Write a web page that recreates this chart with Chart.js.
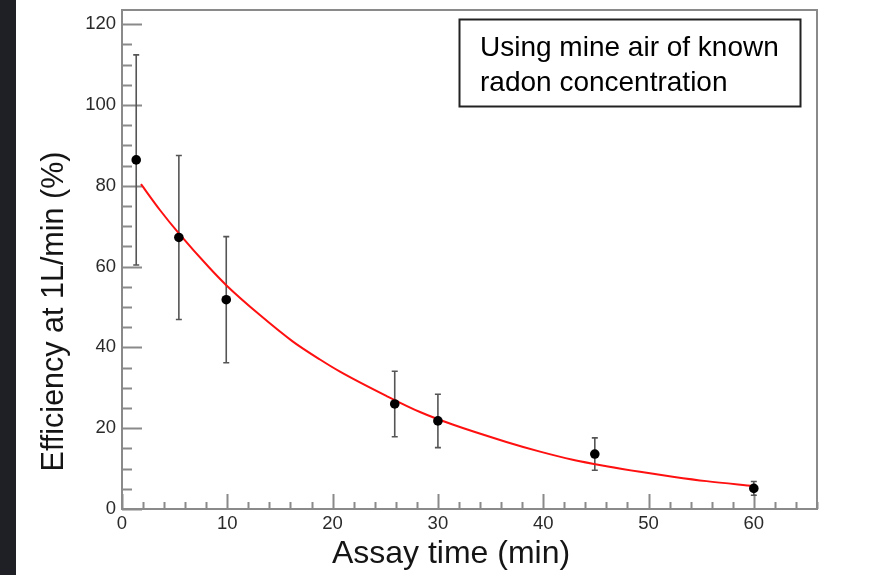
<!DOCTYPE html>
<html><head><meta charset="utf-8">
<script src="https://cdn.jsdelivr.net/npm/chart.js@4"></script>
<style>html,body{margin:0;padding:0;background:#fff;overflow:hidden}#wrap{width:875px;height:575px;position:relative}</style>
</head><body><div id="wrap"><canvas id="c" width="875" height="575"></canvas></div>
<script>
// ---- data ----
const assayTime = [1.35, 5.4, 9.9, 25.9, 30, 44.9, 60];
const efficiency = [86.4, 67.2, 51.8, 26.0, 21.8, 13.6, 5.1];
const efficiencyError = [26.0, 20.3, 15.6, 8.1, 6.6, 4.0, 1.7];
const fitTime = [1.8, 3.6, 5.4, 8.3, 9.9, 13.1, 16.2, 18.8, 20.7, 25.1, 28.3, 31.4, 36.5, 39.7, 42.8, 46.0, 49.2, 52.3, 55.5, 60.0];
const fitEfficiency = [80.4, 74.0, 68.2, 59.7, 55.4, 48.0, 41.5, 37.0, 34.0, 28.0, 24.0, 20.9, 16.6, 14.2, 12.2, 10.6, 9.2, 8.0, 6.9, 5.7];
const xTicks = [0, 10, 20, 30, 40, 50, 60];
const yTicks = [0, 20, 40, 60, 80, 100, 120];
const noteLines = ["Using mine air of known", "radon concentration"];
const xTitle = "Assay time (min)";
const yTitle = "Efficiency at 1L/min (%)";

const FONT = '"Liberation Sans", Arial, Helvetica, sans-serif';
const AXIS_GRAY = '#8a8a8a';

const decor = {
  id: 'decor',
  beforeDraw(chart) {
    const ctx = chart.ctx;
    ctx.save();
    ctx.fillStyle = '#ffffff';
    ctx.fillRect(0, 0, chart.width, chart.height);
    ctx.fillStyle = '#1f2025';
    ctx.fillRect(0, 0, 16, chart.height);
    ctx.restore();
  },
  beforeDatasetsDraw(chart) {
    const ctx = chart.ctx;
    const a = chart.chartArea;
    const xs = chart.scales.x, ys = chart.scales.y;
    ctx.save();
    // frame
    ctx.strokeStyle = AXIS_GRAY;
    ctx.lineWidth = 2;
    ctx.strokeRect(a.left, a.top, a.right - a.left, a.bottom - a.top);
    // inward ticks
    ctx.beginPath();
    for (let v = 0; v <= ys.max; v += 5) {
      const p = Math.round(ys.getPixelForValue(v)) + 0.5;
      const len = (v % 20 === 0) ? 20 : 10;
      ctx.moveTo(a.left, p); ctx.lineTo(a.left + len, p);
    }
    for (let v = 0; v <= xs.max; v += 2) {
      const p = Math.round(xs.getPixelForValue(v)) + 0.5;
      const len = (v % 10 === 0) ? 15 : 7;
      ctx.moveTo(p, a.bottom); ctx.lineTo(p, a.bottom - len);
    }
    ctx.stroke();
    // error bars
    ctx.strokeStyle = '#555555';
    ctx.lineWidth = 1.6;
    ctx.beginPath();
    assayTime.forEach((t, i) => {
      const x = xs.getPixelForValue(t);
      const y1 = ys.getPixelForValue(efficiency[i] + efficiencyError[i]);
      const y2 = ys.getPixelForValue(efficiency[i] - efficiencyError[i]);
      ctx.moveTo(x, y1); ctx.lineTo(x, y2);
      ctx.moveTo(x - 3, y1); ctx.lineTo(x + 3, y1);
      ctx.moveTo(x - 3, y2); ctx.lineTo(x + 3, y2);
    });
    ctx.stroke();
    ctx.restore();
  },
  afterDraw(chart) {
    const ctx = chart.ctx;
    ctx.save();
    // axis titles
    ctx.fillStyle = '#151515';
    ctx.textAlign = 'center';
    ctx.textBaseline = 'middle';
    ctx.font = '32px ' + FONT;
    ctx.fillText(xTitle, 451, 554);
    ctx.save();
    ctx.translate(55, 311.5);
    ctx.rotate(-Math.PI / 2);
    ctx.font = '30.5px ' + FONT;
    ctx.fillText(yTitle, 0, 0);
    ctx.restore();
    // annotation box
    ctx.fillStyle = '#ffffff';
    ctx.fillRect(459.5, 19.5, 341, 87);
    ctx.strokeStyle = '#222222';
    ctx.lineWidth = 2;
    ctx.strokeRect(459.5, 19.5, 341, 87);
    ctx.fillStyle = '#000000';
    ctx.font = '28px ' + FONT;
    ctx.textBaseline = 'alphabetic';
    ctx.textAlign = 'left';
    ctx.fillText(noteLines[0], 480, 55.5);
    ctx.fillText(noteLines[1], 480, 91);
    ctx.restore();
  }
};

new Chart(document.getElementById('c'), {
  type: 'scatter',
  data: {
    datasets: [
      {
        label: 'data',
        data: assayTime.map((t, i) => ({x: t, y: efficiency[i]})),
        pointRadius: 4.8,
        pointBackgroundColor: '#000',
        pointBorderColor: '#000',
        pointBorderWidth: 0,
        showLine: false,
        order: 0
      },
      {
        label: 'fit',
        type: 'line',
        data: fitTime.map((t, i) => ({x: t, y: fitEfficiency[i]})),
        borderColor: '#ff1010',
        borderWidth: 2,
        pointRadius: 0,
        fill: false,
        cubicInterpolationMode: 'monotone',
        order: 1
      }
    ]
  },
  options: {
    responsive: false,
    animation: false,
    devicePixelRatio: 1,
    layout: {padding: {top: 10, right: 58, left: 0, bottom: 0}},
    plugins: {legend: {display: false}, tooltip: {enabled: false}},
    scales: {
      x: {
        type: 'linear',
        min: 0, max: 66,
        afterBuildTicks(s) { s.ticks = xTicks.map(v => ({value: v})); },
        afterFit(s) { s.height = 66; s.paddingLeft = 0; s.paddingRight = 0; },
        grid: {display: false, drawTicks: false},
        border: {display: false},
        ticks: {padding: 3.5, color: '#2a2a2a', font: {family: FONT, size: 18.5}, maxRotation: 0, autoSkip: false},
        title: {display: false}
      },
      y: {
        type: 'linear',
        min: 0, max: 123.5,
        afterBuildTicks(s) { s.ticks = yTicks.map(v => ({value: v})); },
        afterFit(s) { s.width = 122; s.paddingTop = 0; s.paddingBottom = 0; },
        grid: {display: false, drawTicks: false},
        border: {display: false},
        ticks: {padding: 6, color: '#2a2a2a', font: {family: FONT, size: 18.5}, autoSkip: false},
        title: {display: false}
      }
    }
  },
  plugins: [decor]
});
</script></body></html>
